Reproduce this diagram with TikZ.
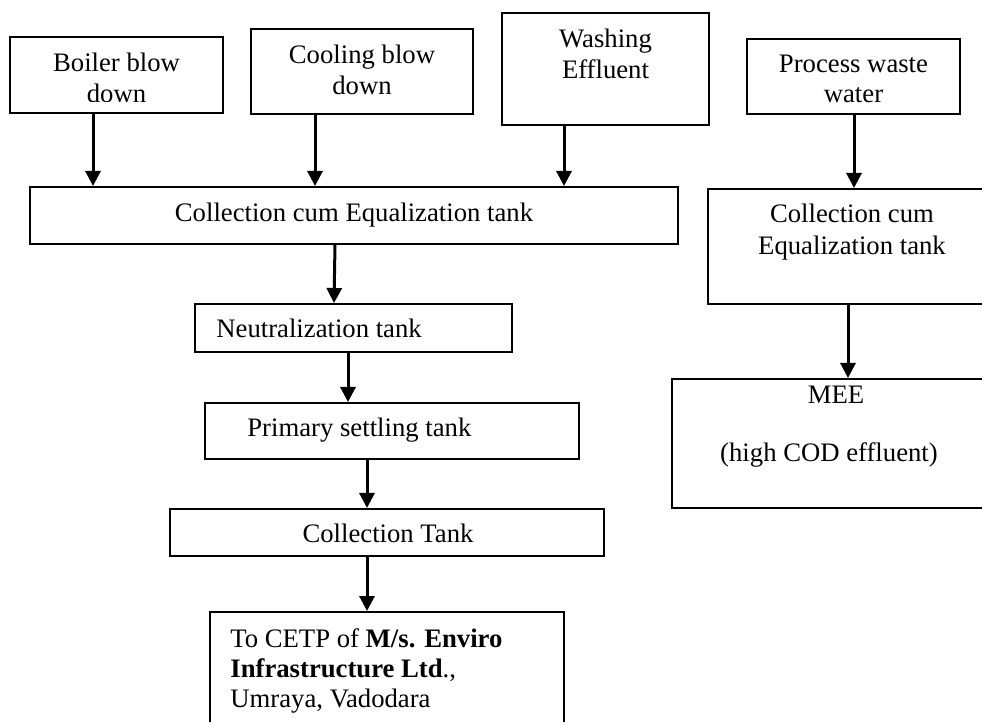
\documentclass[tikz,border=0pt]{standalone}
\usepackage{fontspec}
\setmainfont{Liberation Serif}
\usetikzlibrary{arrows.meta}
\tikzset{
  box/.style={draw, line width=1pt, inner sep=0pt, fill=none},
  txt/.style={inner sep=0pt, anchor=base, font=\fontsize{13.35pt}{15.3pt}\selectfont},
  txtw/.style={txt, anchor=base west},
  arr/.style={line width=1.5pt, -{Triangle[width=7.5pt,length=7.5pt]}}
}
\begin{document}
\begin{tikzpicture}[x=0.5pt,y=-0.5pt]
\useasboundingbox (0,0) rectangle (982,722);
\clip (0,0) rectangle (982,722);
\fill[white] (0,0) rectangle (982,722);
% boxes
\node[box, minimum width=106.5pt, minimum height=38pt] (b1) at (116.5,75) {};
\node[box, minimum width=111pt, minimum height=42.5pt] (b2) at (362,71.5) {};
\node[box, minimum width=103.5pt, minimum height=56pt] (b3) at (605.5,69) {};
\node[box, minimum width=106.5pt, minimum height=37.5pt] (b4) at (853.5,76.5) {};
\node[box, minimum width=324pt, minimum height=28.5pt] (b5) at (354,215.5) {};
\node[box, minimum width=144pt, minimum height=57.5pt] (b6) at (852,246.5) {};
\node[box, minimum width=158.5pt, minimum height=24pt] (b7) at (353.5,328) {};
\node[box, minimum width=187pt, minimum height=28pt] (b8) at (392,431) {};
\node[box, minimum width=217pt, minimum height=23.5pt] (b9) at (387,532.5) {};
\node[box, minimum width=177pt, minimum height=74pt] (b10) at (387,686) {};
\node[box, minimum width=161pt, minimum height=64.5pt] (b11) at (833,443.5) {};
% texts
\node[txt] (t1a) at (116.5,71.7) {Boiler blow};
\begin{scope}
\clip (10,37) rectangle (223,101.5);
\node[txt] (t1b) at (116.5,103) {down};
\end{scope}
\node[txt] (t2a) at (362,63.3) {Cooling blow};
\node[txt] (t2b) at (362,95) {down};
\node[txt] (t3a) at (605.5,48) {Washing};
\node[txt] (t3b) at (605.5,79) {Effluent};
\node[txt] (t4a) at (853.5,73) {Process waste};
\node[txt] (t4b) at (853.5,103) {water};
\node[txt] (t5) at (354,222) {Collection cum Equalization tank};
\node[txt] (t6a) at (852,223) {Collection cum};
\node[txt] (t6b) at (852,255) {Equalization tank};
\node[txtw] (t7) at (216,338) {Neutralization tank};
\node[txtw] (t8) at (247,437) {Primary settling tank};
\node[txt] (t9) at (388,543) {Collection Tank};
\node[txtw] (t10a) at (230,647) {To CETP of \textbf{M/s. Enviro}};
\node[txtw] (t10b) at (230,677) {\textbf{Infrastructure Ltd}.,};
\node[txtw] (t10c) at (230,707) {Umraya, Vadodara};
\node[txt] (t11a) at (836,403) {MEE};
\node[txt] (t11b) at (829,462) {(high COD effluent)};
% arrow x positions
\coordinate (x1) at (93,0);
\coordinate (x2) at (315,0);
\coordinate (x3) at (564,0);
\coordinate (x4) at (854,0);
\coordinate (x5a) at (335,0);
\coordinate (x5b) at (334,0);
\coordinate (x6) at (348,0);
\coordinate (x7) at (367,0);
\coordinate (x9) at (848,0);
% arrows
\draw[arr] (b1.south -| x1) -- (b5.north -| x1);
\draw[arr] (b2.south -| x2) -- (b5.north -| x2);
\draw[arr] (b3.south -| x3) -- (b5.north -| x3);
\draw[arr] (b4.south -| x4) -- (b6.north -| x4);
\draw[arr] (b5.south -| x5a) -- (b7.north -| x5b);
\draw[arr] (b7.south -| x6) -- (b8.north -| x6);
\draw[arr] (b8.south -| x7) -- (b9.north -| x7);
\draw[arr] (b9.south -| x7) -- (b10.north -| x7);
\draw[arr] (b6.south -| x9) -- (b11.north -| x9);
\end{tikzpicture}
\end{document}
